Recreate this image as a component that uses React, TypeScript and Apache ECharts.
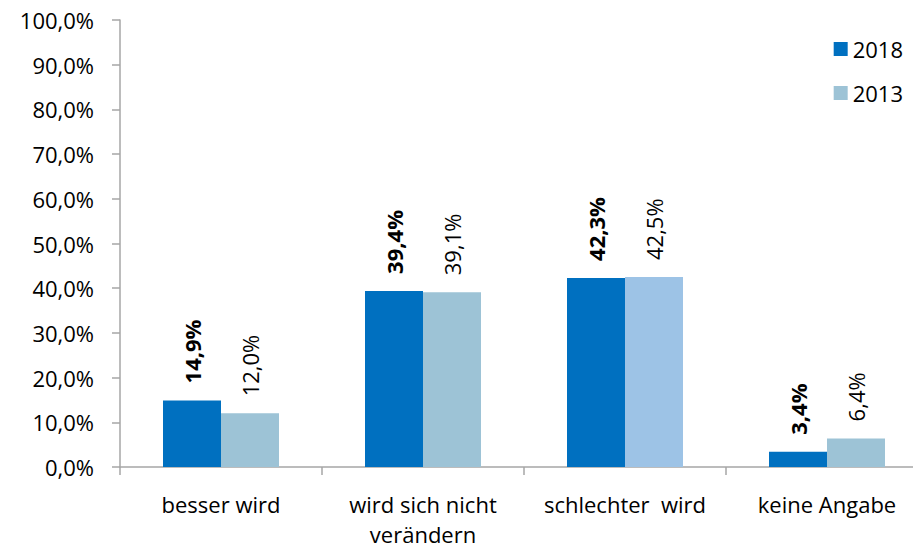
import React, { useEffect, useRef } from "react";
import * as echarts from "echarts";

const categories = ["besser wird", "wird sich nicht\nverändern", "schlechter  wird", "keine Angabe"];
const values2018 = [14.9, 39.4, 42.3, 3.4];
const values2013 = [12.0, 39.1, 42.5, 6.4];
const colors2013 = ["#9DC3D6", "#9DC3D6", "#9DC3E6", "#9DC3D6"];
const yTicks = [0, 10, 20, 30, 40, 50, 60, 70, 80, 90, 100];

const FONT = "Open Sans";
const fmt = (v: number) => v.toFixed(1).replace(".", ",") + "%";

export default function App() {
  const ref = useRef<HTMLDivElement>(null);
  useEffect(() => {
    if (!ref.current) return;
    const chart = echarts.init(ref.current, undefined, { renderer: "svg" });
    chart.setOption({
      animation: false,
      backgroundColor: "#ffffff",
      textStyle: { fontFamily: FONT },
      grid: { left: 120, width: 808, top: 20, height: 447, containLabel: false, outerBoundsMode: "none" },
      legend: {
        orient: "vertical",
        right: 5,
        top: 33,
        itemWidth: 14,
        itemHeight: 14,
        itemGap: 22,
        icon: "rect",
        textStyle: { fontFamily: FONT, fontSize: 22, color: "#000" },
        data: ["2018", "2013"],
      },
      xAxis: {
        type: "category",
        data: categories,
        axisLine: { lineStyle: { color: "#A6A6A6", width: 1.5 } },
        axisTick: { show: true, length: 8, alignWithLabel: false, lineStyle: { color: "#A6A6A6", width: 1.5 } },
        axisLabel: { fontFamily: FONT, fontSize: 22, color: "#000", margin: 22, lineHeight: 30, interval: 0 },
      },
      yAxis: {
        type: "value",
        min: yTicks[0],
        max: yTicks[yTicks.length - 1],
        interval: 10,
        splitLine: { show: false },
        axisLine: { show: true, lineStyle: { color: "#A6A6A6", width: 1.5 } },
        axisTick: { show: true, length: 8, lineStyle: { color: "#A6A6A6", width: 1.5 } },
        axisLabel: { fontFamily: FONT, fontSize: 22, color: "#000", margin: 26, formatter: (v: number) => fmt(v) },
      },
      series: [
        {
          name: "2018",
          type: "bar",
          barWidth: 58,
          barGap: "0%",
          itemStyle: { color: "#0070C0" },
          data: values2018,
          label: {
            show: true,
            position: "top",
            distance: 17,
            rotate: 90,
            align: "left",
            verticalAlign: "middle",
            fontFamily: FONT,
            fontSize: 22,
            fontWeight: "bold",
            color: "#000",
            formatter: (p: any) => fmt(p.value),
          },
        },
        {
          name: "2013",
          type: "bar",
          barWidth: 58,
          barGap: "0%",
          itemStyle: { color: "#9DC3D6" },
          data: values2013.map((v, i) => ({ value: v, itemStyle: { color: colors2013[i] } })),
          label: {
            show: true,
            position: "top",
            distance: 17,
            rotate: 90,
            align: "left",
            verticalAlign: "middle",
            fontFamily: FONT,
            fontSize: 22,
            color: "#000",
            formatter: (p: any) => fmt(p.value),
          },
        },
      ],
    });
    return () => chart.dispose();
  }, []);
  return <div ref={ref} style={{ width: 913, height: 548, position: "absolute", left: 0, top: 0 }} />;
}
